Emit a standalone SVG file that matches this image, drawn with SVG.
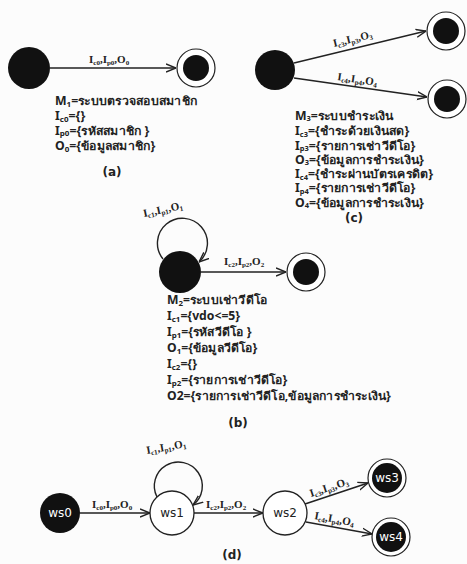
<svg xmlns="http://www.w3.org/2000/svg" width="467" height="564" viewBox="0 0 467 564">
<style>
.bg{fill:#fcfcfc}
.st{fill:#111}
.ring{fill:#fff;stroke:#222;stroke-width:1.2}
.open{fill:#fff;stroke:#222;stroke-width:1.3}
.edge{fill:none;stroke:#222;stroke-width:1.4}
.lbl{font-family:"Liberation Serif",serif;font-size:11px;font-weight:bold;fill:#222}
.sub{font-size:7px}
.def{font-family:"Noto Sans","DejaVu Sans",sans-serif;font-size:11.5px;font-weight:bold;fill:#222}
.ds{font-size:7.5px}
.dc{font-size:7px}
.cap{font-family:"DejaVu Sans",sans-serif;font-size:12px;font-weight:bold;fill:#222;text-anchor:middle}
.ws{font-family:"DejaVu Sans",sans-serif;font-size:12px;text-anchor:middle}
</style>
<defs>
<marker id="arr" viewBox="0 0 10 10" refX="10" refY="5" markerWidth="10" markerHeight="10" markerUnits="userSpaceOnUse" orient="auto">
<path d="M0,1 L10,5 L0,9" fill="none" stroke="#222" stroke-width="1.4"/>
</marker>
</defs>
<rect class="bg" x="0" y="0" width="467" height="564"/>

<g id="connectors">
<line class="edge" x1="50" y1="68" x2="176" y2="68" marker-end="url(#arr)"/>
<line class="edge" x1="294" y1="63" x2="426" y2="31" marker-end="url(#arr)"/>
<line class="edge" x1="294" y1="78" x2="427" y2="97" marker-end="url(#arr)"/>
<path class="edge" d="M163,259 A25,25 0 1 1 199,262" marker-end="url(#arr)"/>
<line class="edge" x1="201" y1="272" x2="286" y2="272" marker-end="url(#arr)"/>
<line class="edge" x1="80" y1="513" x2="150" y2="513" marker-end="url(#arr)"/>
<path class="edge" d="M157,497 A24,24 0 1 1 193,505" marker-end="url(#arr)"/>
<line class="edge" x1="194" y1="513" x2="263" y2="513" marker-end="url(#arr)"/>
<line class="edge" x1="305" y1="504" x2="368" y2="483" marker-end="url(#arr)"/>
<line class="edge" x1="306" y1="522" x2="372" y2="534" marker-end="url(#arr)"/>

<text class="lbl" x="89" y="63">I<tspan class="sub" dy="2">c0</tspan><tspan dy="-2">,I</tspan><tspan class="sub" dy="2">p0</tspan><tspan dy="-2">,O</tspan><tspan class="sub" dy="2">0</tspan></text>
<text class="lbl" x="334" y="47" transform="rotate(-13.6 334 47)">I<tspan class="sub" dy="2">c3</tspan><tspan dy="-2">,I</tspan><tspan class="sub" dy="2">p3</tspan><tspan dy="-2">,O</tspan><tspan class="sub" dy="2">3</tspan></text>
<text class="lbl" x="337" y="80" transform="rotate(8.2 337 80)">I<tspan class="sub" dy="2">c4</tspan><tspan dy="-2">,I</tspan><tspan class="sub" dy="2">p4</tspan><tspan dy="-2">,O</tspan><tspan class="sub" dy="2">4</tspan></text>
<text class="lbl" x="144" y="217" transform="rotate(-12 144 217)">I<tspan class="sub" dy="2">c1</tspan><tspan dy="-2">,I</tspan><tspan class="sub" dy="2">p1</tspan><tspan dy="-2">,O</tspan><tspan class="sub" dy="2">1</tspan></text>
<text class="lbl" x="224" y="265">I<tspan class="sub" dy="2">c2</tspan><tspan dy="-2">,I</tspan><tspan class="sub" dy="2">p2</tspan><tspan dy="-2">,O</tspan><tspan class="sub" dy="2">2</tspan></text>
<text class="lbl" x="92" y="508">I<tspan class="sub" dy="2">c0</tspan><tspan dy="-2">,I</tspan><tspan class="sub" dy="2">p0</tspan><tspan dy="-2">,O</tspan><tspan class="sub" dy="2">0</tspan></text>
<text class="lbl" x="147" y="454" transform="rotate(-10 147 454)">I<tspan class="sub" dy="2">c1</tspan><tspan dy="-2">,I</tspan><tspan class="sub" dy="2">p1</tspan><tspan dy="-2">,O</tspan><tspan class="sub" dy="2">1</tspan></text>
<text class="lbl" x="206" y="508">I<tspan class="sub" dy="2">c2</tspan><tspan dy="-2">,I</tspan><tspan class="sub" dy="2">p2</tspan><tspan dy="-2">,O</tspan><tspan class="sub" dy="2">2</tspan></text>
<text class="lbl" x="311" y="497" transform="rotate(-18 311 497)">I<tspan class="sub" dy="2">c3</tspan><tspan dy="-2">,I</tspan><tspan class="sub" dy="2">p3</tspan><tspan dy="-2">,O</tspan><tspan class="sub" dy="2">3</tspan></text>
<text class="lbl" x="314" y="519" transform="rotate(10 314 519)">I<tspan class="sub" dy="2">c4</tspan><tspan dy="-2">,I</tspan><tspan class="sub" dy="2">p4</tspan><tspan dy="-2">,O</tspan><tspan class="sub" dy="2">4</tspan></text>
</g>

<g id="a-start"><circle class="st" cx="29" cy="68" r="21"/></g>
<g id="a-final"><circle class="ring" cx="196" cy="68" r="19"/><circle class="st" cx="196" cy="68" r="13"/></g>
<g id="a-def" transform="translate(55 0) scale(1.07 1) translate(-55 0)">
<text class="def" x="55" y="105">M<tspan class="ds" dy="2">1</tspan><tspan dy="-2">=ระบบตรวจสอบสมาชิก</tspan></text>
<text class="def" x="55" y="120">I<tspan class="ds" dy="2">c0</tspan><tspan dy="-2">={}</tspan></text>
<text class="def" x="55" y="135">I<tspan class="ds" dy="1.5">p0</tspan><tspan dy="-1.5">={รหัสสมาชิก }</tspan></text>
<text class="def" x="55" y="150.5">O<tspan class="ds" dy="2">0</tspan><tspan dy="-2">={ข้อมูลสมาชิก}</tspan></text>
</g>
<text class="cap" x="112" y="176">(a)</text>

<g id="c-start"><circle class="st" cx="275" cy="70" r="20"/></g>
<g id="c-final3"><circle class="ring" cx="446" cy="31" r="19"/><circle class="st" cx="446" cy="31" r="13"/></g>
<g id="c-final4"><circle class="ring" cx="447" cy="99" r="19"/><circle class="st" cx="447" cy="99" r="13"/></g>
<g id="c-def" transform="translate(295 0) scale(1.07 1) translate(-295 0)">
<text class="def" x="295" y="120.3">M<tspan class="dc" dy="1">3</tspan><tspan dy="-1">=ระบบชำระเงิน</tspan></text>
<text class="def" x="295" y="135.3">I<tspan class="dc" dy="1.5">c3</tspan><tspan dy="-1.5">={ชำระด้วยเงินสด}</tspan></text>
<text class="def" x="295" y="149.6">I<tspan class="dc" dy="1.5">p3</tspan><tspan dy="-1.5">={รายการเช่าวีดีโอ}</tspan></text>
<text class="def" x="295" y="163.9">O<tspan class="dc" dy="1.5">3</tspan><tspan dy="-1.5">={ข้อมูลการชำระเงิน}</tspan></text>
<text class="def" x="295" y="178.2">I<tspan class="dc" dy="1.5">c4</tspan><tspan dy="-1.5">={ชำระผ่านบัตรเครดิต}</tspan></text>
<text class="def" x="295" y="192.5">I<tspan class="dc" dy="1.5">p4</tspan><tspan dy="-1.5">={รายการเช่าวีดีโอ}</tspan></text>
<text class="def" x="295" y="206.8">O<tspan class="dc" dy="1.5">4</tspan><tspan dy="-1.5">={ข้อมูลการชำระเงิน}</tspan></text>
</g>
<text class="cap" x="354" y="222">(c)</text>

<g id="b-start"><circle class="st" cx="180" cy="272" r="21"/></g>
<g id="b-final"><circle class="ring" cx="306" cy="272" r="19"/><circle class="st" cx="306" cy="272" r="13"/></g>
<g id="b-def" transform="translate(167 0) scale(1.06 1) translate(-167 0)">
<text class="def" x="167" y="304">M<tspan class="ds" dy="2">2</tspan><tspan dy="-2">=ระบบเช่าวีดีโอ</tspan></text>
<text class="def" x="167" y="320">I<tspan class="ds" dy="2.5">c1</tspan><tspan dy="-2.5">={vdo&lt;=5}</tspan></text>
<text class="def" x="167" y="336">I<tspan class="ds" dy="2.5">p1</tspan><tspan dy="-2.5">={รหัสวีดีโอ }</tspan></text>
<text class="def" x="167" y="352">O<tspan class="ds" dy="2.5">1</tspan><tspan dy="-2.5">={ข้อมูลวีดีโอ}</tspan></text>
<text class="def" x="167" y="368">I<tspan class="ds" dy="2.5">c2</tspan><tspan dy="-2.5">={}</tspan></text>
<text class="def" x="167" y="384">I<tspan class="ds" dy="2.5">p2</tspan><tspan dy="-2.5">={รายการเช่าวีดีโอ}</tspan></text>
<text class="def" x="167" y="400">O2={รายการเช่าวีดีโอ,ข้อมูลการชำระเงิน}</text>
</g>
<text class="cap" x="238" y="427">(b)</text>

<g id="ws0"><circle class="st" cx="60" cy="513" r="20"/><text class="ws" x="60" y="517" fill="#fff">ws0</text></g>
<g id="ws1"><circle class="open" cx="172" cy="513" r="22"/><text class="ws" x="172" y="517" fill="#222">ws1</text></g>
<g id="ws2"><circle class="open" cx="285" cy="513" r="22"/><text class="ws" x="285" y="517" fill="#222">ws2</text></g>
<g id="ws3"><circle class="ring" cx="387" cy="478" r="19"/><circle class="st" cx="387" cy="478" r="15"/><text class="ws" x="387" y="482" fill="#fff">ws3</text></g>
<g id="ws4"><circle class="ring" cx="391" cy="537" r="19"/><circle class="st" cx="391" cy="537" r="15"/><text class="ws" x="391" y="541" fill="#fff">ws4</text></g>
<text class="cap" x="232" y="559">(d)</text>
</svg>
